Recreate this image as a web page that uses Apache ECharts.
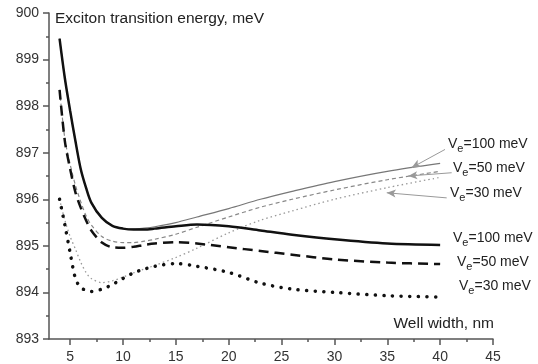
<!DOCTYPE html>
<html>
<head>
<meta charset="utf-8">
<script src="https://cdn.jsdelivr.net/npm/echarts@6/dist/echarts.min.js"></script>
<style>
  html, body { margin: 0; padding: 0; background: #fff; }
  #chart { width: 538px; height: 364px; }
</style>
</head>
<body>
<div id="chart"></div>
<script>
// well width, nm
const widths = [4, 4.5, 5, 5.5, 6, 6.5, 7, 8, 9, 10, 11, 12, 13, 15, 17, 20, 23, 26, 30, 35, 40]
// thick black curves (lower group)
const well100 = [899.45, 898.6, 897.9, 897.25, 896.65, 896.25, 895.93, 895.6, 895.43, 895.37, 895.35, 895.35, 895.37, 895.42, 895.46, 895.42, 895.33, 895.24, 895.14, 895.05, 895.02]
const well50 = [898.35, 897.25, 896.65, 896.15, 895.82, 895.55, 895.33, 895.07, 894.97, 894.96, 894.98, 895.02, 895.05, 895.08, 895.05, 894.97, 894.89, 894.81, 894.71, 894.64, 894.61]
const well30 = [896.0, 895.45, 894.85, 894.3, 894.1, 894.05, 894.02, 894.07, 894.17, 894.3, 894.42, 894.5, 894.56, 894.62, 894.56, 894.43, 894.2, 894.07, 894.0, 893.93, 893.9]
// thin grey curves (upper group)
const barr100 = [899.45, 898.6, 897.9, 897.25, 896.65, 896.25, 895.93, 895.6, 895.43, 895.37, 895.36, 895.38, 895.41, 895.5, 895.62, 895.8, 896.0, 896.17, 896.38, 896.6, 896.77]
const barr50 = [898.35, 897.3, 896.75, 896.3, 895.95, 895.65, 895.45, 895.2, 895.1, 895.07, 895.07, 895.1, 895.14, 895.25, 895.4, 895.62, 895.83, 896.0, 896.2, 896.42, 896.6]
const barr30 = [896.0, 895.55, 895.2, 894.93, 894.65, 894.43, 894.3, 894.21, 894.25, 894.33, 894.42, 894.5, 894.58, 894.75, 894.95, 895.28, 895.55, 895.75, 896.0, 896.25, 896.47]
const xTicks = [5, 10, 15, 20, 25, 30, 35, 40, 45]
const xMinorTicks = [7.5, 12.5, 17.5, 22.5, 27.5, 32.5, 37.5, 42.5]
// arrows: [from, to] in data units
const arrow100 = [[40.46, 897.07], [37.31, 896.68]]
const arrow50 = [[41.09, 896.57], [36.99, 896.5]]
const arrow30 = [[40.62, 896.03], [34.95, 896.14]]

const FONT = 'Liberation Sans, Arial, sans-serif'
const pts = ys => widths.map((x, i) => [x, ys[i]])

const chart = echarts.init(document.getElementById('chart'))

const arrowLine = a => ({
  silent: true,
  symbol: ['none', 'arrow'],
  symbolSize: [6, 9],
  label: { show: false },
  lineStyle: { color: '#999', width: 1, type: 'solid' },
  data: [[{ coord: a[0] }, { coord: a[1] }]]
})

const veLabel = (val, left, top) => ({
  type: 'text',
  left: left,
  top: top,
  style: {
    text: '{v|V}{s|e}{v|=' + val + ' meV}',
    rich: {
      v: { fontSize: 14, fontFamily: FONT, fill: '#222' },
      s: { fontSize: 11, fontFamily: FONT, fill: '#222', padding: [9, 0, 0, 0] }
    }
  }
})

chart.setOption({
  animation: false,
  grid: { left: 49, right: 45, top: 13, bottom: 24 },
  xAxis: [{
    type: 'value',
    min: 3,
    max: 45,
    splitLine: { show: false },
    axisLine: { lineStyle: { color: '#555', width: 1.5 } },
    axisTick: { customValues: xTicks, length: 6, lineStyle: { color: '#555', width: 1.5 } },
    axisLabel: { customValues: xTicks, margin: 11, fontSize: 14, fontFamily: FONT, color: '#333' }
  }, {
    type: 'value',
    position: 'bottom',
    min: 3,
    max: 45,
    splitLine: { show: false },
    axisLine: { show: false },
    axisTick: { customValues: xMinorTicks, length: 3, lineStyle: { color: '#555', width: 1.5 } },
    axisLabel: { show: false }
  }],
  yAxis: {
    type: 'value',
    min: 893,
    max: 900,
    interval: 1,
    splitLine: { show: false },
    axisLine: { show: true, lineStyle: { color: '#555', width: 1.5 } },
    axisTick: { show: true, length: 6, lineStyle: { color: '#555', width: 1.5 } },
    minorTick: { show: true, splitNumber: 2, length: 3, lineStyle: { color: '#555', width: 1.5 } },
    axisLabel: { margin: 10, fontSize: 14, fontFamily: FONT, color: '#333' }
  },
  series: [{
    type: 'line', data: pts(barr100), smooth: 0.3, showSymbol: false,
    lineStyle: { color: '#777', width: 1.2 },
    markLine: arrowLine(arrow100)
  }, {
    type: 'line', data: pts(barr50), smooth: 0.3, showSymbol: false,
    lineStyle: { color: '#888', width: 1.2, type: [4, 3] },
    markLine: arrowLine(arrow50)
  }, {
    type: 'line', data: pts(barr30), smooth: 0.3, showSymbol: false,
    lineStyle: { color: '#999', width: 1.3, type: [1.5, 3] },
    markLine: arrowLine(arrow30)
  }, {
    type: 'line', data: pts(well100), smooth: 0.3, showSymbol: false,
    lineStyle: { color: '#111', width: 2.5 }
  }, {
    type: 'line', data: pts(well50), smooth: 0.3, showSymbol: false,
    lineStyle: { color: '#111', width: 2.5, type: [10, 6] }
  }, {
    type: 'line', data: pts(well30), smooth: 0.3, showSymbol: false,
    lineStyle: { color: '#111', width: 3.5, type: [0.1, 8.5], cap: 'round' }
  }],
  graphic: [
    { type: 'text', left: 55, top: 11, style: { text: 'Exciton transition energy, meV', fontSize: 15.5, fontFamily: FONT, fill: '#222' } },
    { type: 'text', right: 44, top: 316, style: { text: 'Well width, nm', fontSize: 15.5, fontFamily: FONT, fill: '#222' } },
    veLabel(100, 448, 137),
    veLabel(50, 453, 161),
    veLabel(30, 450, 186),
    veLabel(100, 453, 231),
    veLabel(50, 457, 255),
    veLabel(30, 459, 279)
  ]
})
</script>
</body>
</html>
